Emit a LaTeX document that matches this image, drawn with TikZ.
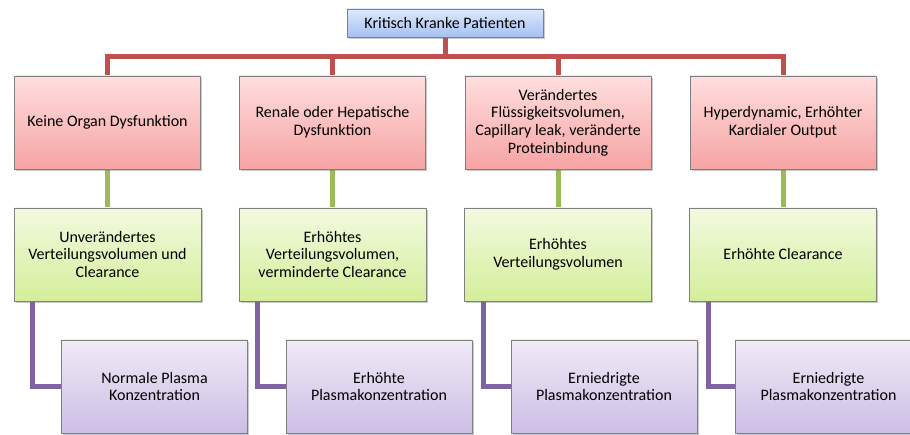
\documentclass[tikz,border=0pt]{standalone}
\usepackage{fontspec}
\setmainfont{Carlito}
\usetikzlibrary{shadows,backgrounds}
\definecolor{linered}{HTML}{C0504D}
\definecolor{linegreen}{HTML}{9BBB59}
\definecolor{linepurple}{HTML}{8064A2}
\definecolor{boxborder}{HTML}{7F7F7F}
\tikzset{
  basebox/.style={draw=boxborder, line width=0.8pt, align=center, inner sep=2pt,
    font=\fontsize{16}{17.7}\selectfont, shading=axis, shading angle=0,
    drop shadow={shadow xshift=1.8pt, shadow yshift=-1.8pt, opacity=0.35, fill=black!60}},
  topbox/.style={basebox, minimum width=196pt, minimum height=28pt, top color={rgb,255:red,222;green,232;blue,251}, bottom color={rgb,255:red,165;green,193;blue,243}},
  redbox/.style={basebox, minimum width=186pt, minimum height=93pt, top color={rgb,255:red,255;green,222;blue,222}, bottom color={rgb,255:red,246;green,163;blue,163}},
  greenbox/.style={basebox, minimum width=187pt, minimum height=93pt, top color={rgb,255:red,242;green,250;blue,224}, bottom color={rgb,255:red,212;green,238;blue,154}},
  purplebox/.style={basebox, minimum width=186pt, minimum height=93pt, top color={rgb,255:red,240;green,234;blue,246}, bottom color={rgb,255:red,204;green,190;blue,229}},
  redline/.style={draw=linered, line width=5pt},
  greenline/.style={draw=linegreen, line width=5pt},
  purpleline/.style={draw=linepurple, line width=5pt},
}
\begin{document}
\begin{tikzpicture}[x=1pt,y=-1pt]
\useasboundingbox (0,0) rectangle (910,435);
\node[topbox] (top) at (445,23) {Kritisch Kranke Patienten};
\node[redbox] (r1) at (107.5,122.5) {Keine Organ Dysfunktion};
\node[redbox] (r2) at (332.5,122.5) {Renale oder Hepatische\\Dysfunktion};
\node[redbox] (r3) at (558,122.5) {Verändertes\\Flüssigkeitsvolumen,\\Capillary leak, veränderte\\Proteinbindung};
\node[redbox] (r4) at (783,122.5) {Hyperdynamic, Erhöhter\\Kardialer Output};
\node[greenbox] (g1) at (107.5,254.5) {Unverändertes\\Verteilungsvolumen und\\Clearance};
\node[greenbox] (g2) at (332.5,254.5) {Erhöhtes\\Verteilungsvolumen,\\verminderte Clearance};
\node[greenbox] (g3) at (558,254.5) {Erhöhtes\\Verteilungsvolumen};
\node[greenbox] (g4) at (783,254.5) {Erhöhte Clearance};
\node[purplebox] (p1) at (154.5,386.5) {Normale Plasma\\Konzentration};
\node[purplebox] (p2) at (379,386.5) {Erhöhte\\Plasmakonzentration};
\node[purplebox] (p3) at (604,386.5) {Erniedrigte\\Plasmakonzentration};
\node[purplebox] (p4) at (828.5,386.5) {Erniedrigte\\Plasmakonzentration};
\coordinate (bus) at (445,57);
\begin{pgfonlayer}{background}
  \draw[redline] (top.south) -- (bus);
  \draw[redline, line join=miter] (r1.north) |- (bus) -| (r4.north);
  \draw[redline] (r2.north) -- (r2.north |- bus);
  \draw[redline] (r3.north) -- (r3.north |- bus);
  \foreach \i in {1,2,3,4} {
    \draw[greenline] (r\i.south) -- (g\i.north);
    \draw[purpleline, line join=miter] ([xshift=19pt]g\i.south west) |- (p\i.west);
  }
\end{pgfonlayer}
\end{tikzpicture}
\end{document}
